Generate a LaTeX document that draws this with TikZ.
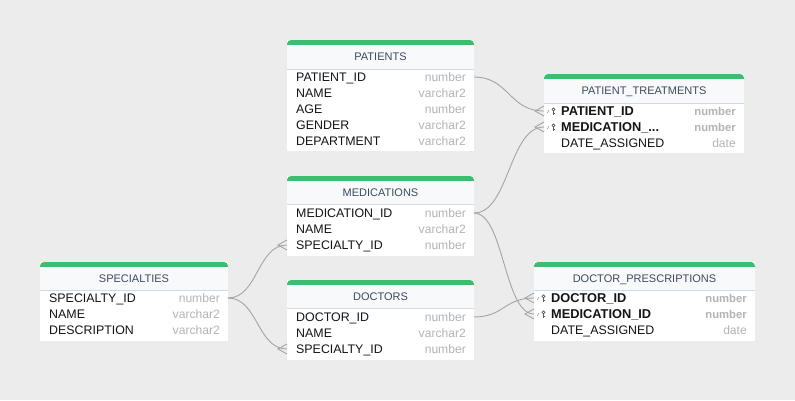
\documentclass[tikz,border=0pt]{standalone}
\usepackage{fontspec}
\setmainfont{Liberation Sans}
\definecolor{bgcol}{RGB}{236,236,236}
\definecolor{topgreen}{RGB}{60,190,110}
\definecolor{headbg}{RGB}{247,249,251}
\definecolor{sepcol}{RGB}{208,218,230}
\definecolor{headtxt}{RGB}{62,74,92}
\definecolor{nametxt}{RGB}{20,20,20}
\definecolor{typetxt}{RGB}{180,180,180}
\definecolor{linkcol}{RGB}{165,165,165}
\definecolor{keycol}{RGB}{90,90,90}
\newcommand\ertab[7]{% id, L, T, W, SEP, BOTTOM, title
  \node[tbody, anchor=north west, minimum width=#4*1pt, minimum height={(#6-#3)*1pt}] (#1) at (#2,#3) {};
  \fill[topgreen, rounded corners=4pt] (#2,#3) rectangle (#2+#4,#3+10);
  \fill[headbg] (#2,#3+5) rectangle (#2+#4,#5);
  \draw[sepcol, line width=1pt] (#2,#5) -- (#2+#4,#5);
  \node[headtext] (#1-h) at (#2+#4/2,{(#3+5+#5)/2+3.9}) {#7};
}
\newcommand\ercol[7]{% id, idx, L, W, y, name, type
  \node[colname] (#1-#2) at (#3+9,#5+4.4) {#6};
  \node[coltype] (#1-#2t) at (#3+#4-8,#5+4.3) {#7};
  \coordinate (#1-#2w) at (#3,#5);
  \coordinate (#1-#2e) at (#3+#4,#5);
}
\newcommand\erkey[7]{% id, idx, L, W, y, name, type
  \draw[keycol!60, line width=0.6pt] (#3+4.8,#5-0.8) -- (#3+3.4,#5+1.8);
  \draw[keycol, line width=0.7pt] (#3+9.5,#5-1.6) circle[radius=1.5pt];
  \draw[keycol, line width=0.7pt] (#3+9.5,#5) -- (#3+9.5,#5+3.6) (#3+9.5,#5+2.4) -- (#3+10.8,#5+2.4);
  \node[colname, font=\bfseries\fontsize{12.8}{14}\selectfont] (#1-#2) at (#3+17,#5+4.5) {#6};
  \node[coltype, font=\bfseries\fontsize{11.3}{14}\selectfont] (#1-#2t) at (#3+#4-8,#5+4.2) {#7};
  \coordinate (#1-#2w) at (#3,#5);
  \coordinate (#1-#2e) at (#3+#4,#5);
}
\begin{document}
\begin{tikzpicture}[x=1pt,y=-1pt,
  tbody/.style={fill=white, draw=none, inner sep=0pt, outer sep=0pt},
  headtext/.style={anchor=base, inner sep=0pt, text=headtxt, font=\fontsize{11}{13}\selectfont},
  colname/.style={anchor=base west, inner sep=0pt, text=nametxt, font=\fontsize{12.4}{14}\selectfont},
  coltype/.style={anchor=base east, inner sep=0pt, text=typetxt, font=\fontsize{12.1}{14}\selectfont},
  link/.style={draw=linkcol, line width=0.9pt}]
\fill[bgcol] (0,0) rectangle (795,400);
\useasboundingbox (0,0) rectangle (795,400);

% PATIENTS
\ertab{pat}{287}{40}{187}{69}{151}{PATIENTS}
\ercol{pat}{1}{287}{187}{77}{PATIENT\_ID}{number}
\ercol{pat}{2}{287}{187}{93}{NAME}{varchar2}
\ercol{pat}{3}{287}{187}{109}{AGE}{number}
\ercol{pat}{4}{287}{187}{125}{GENDER}{varchar2}
\ercol{pat}{5}{287}{187}{141}{DEPARTMENT}{varchar2}

% PATIENT_TREATMENTS
\ertab{ptr}{544}{74}{200}{103}{153}{PATIENT\_TREATMENTS}
\erkey{ptr}{1}{544}{200}{111}{PATIENT\_ID}{number}
\erkey{ptr}{2}{544}{200}{127}{MEDICATION\_...}{number}
\node[colname] (ptr-3) at (561,147.4) {DATE\_ASSIGNED};
\node[coltype] (ptr-3t) at (736,147.3) {date};

% MEDICATIONS
\ertab{med}{287}{176}{187}{204}{256}{MEDICATIONS}
\ercol{med}{1}{287}{187}{213}{MEDICATION\_ID}{number}
\ercol{med}{2}{287}{187}{229}{NAME}{varchar2}
\ercol{med}{3}{287}{187}{245}{SPECIALTY\_ID}{number}

% DOCTORS
\ertab{doc}{287}{280}{187}{308}{360}{DOCTORS}
\ercol{doc}{1}{287}{187}{317}{DOCTOR\_ID}{number}
\ercol{doc}{2}{287}{187}{333}{NAME}{varchar2}
\ercol{doc}{3}{287}{187}{349}{SPECIALTY\_ID}{number}

% SPECIALTIES
\ertab{spc}{40}{262}{188}{290}{341}{SPECIALTIES}
\ercol{spc}{1}{40}{188}{298}{SPECIALTY\_ID}{number}
\ercol{spc}{2}{40}{188}{314}{NAME}{varchar2}
\ercol{spc}{3}{40}{188}{330}{DESCRIPTION}{varchar2}

% DOCTOR_PRESCRIPTIONS
\ertab{dp}{534}{262}{221}{290}{341}{DOCTOR\_PRESCRIPTIONS}
\erkey{dp}{1}{534}{221}{298}{DOCTOR\_ID}{number}
\erkey{dp}{2}{534}{221}{314}{MEDICATION\_ID}{number}
\node[colname] (dp-3) at (551,334.4) {DATE\_ASSIGNED};
\node[coltype] (dp-3t) at (747,334.3) {date};

% connectors
\draw[link] (pat-1e) .. controls +(35,0) and +(-35,0) .. (ptr-1w);
\draw[link] (ptr-1w) ++(0,-5) -- ++(-9,5) -- ++(9,5);
\draw[link] (med-1e) .. controls +(35,0) and +(-35,0) .. (ptr-2w);
\draw[link] (ptr-2w) ++(0,-5) -- ++(-9,5) -- ++(9,5);
\draw[link] (med-1e) .. controls +(30,0) and +(-30,0) .. (dp-2w);
\draw[link] (dp-2w) ++(0,-5) -- ++(-9,5) -- ++(9,5);
\draw[link] (doc-1e) .. controls +(30,0) and +(-30,0) .. (dp-1w);
\draw[link] (dp-1w) ++(0,-5) -- ++(-9,5) -- ++(9,5);
\draw[link] (spc-1e) .. controls +(30,0) and +(-30,0) .. (med-3w);
\draw[link] (med-3w) ++(0,-5) -- ++(-9,5) -- ++(9,5);
\draw[link] (spc-1e) .. controls +(30,0) and +(-30,0) .. (doc-3w);
\draw[link] (doc-3w) ++(0,-5) -- ++(-9,5) -- ++(9,5);
\end{tikzpicture}
\end{document}
